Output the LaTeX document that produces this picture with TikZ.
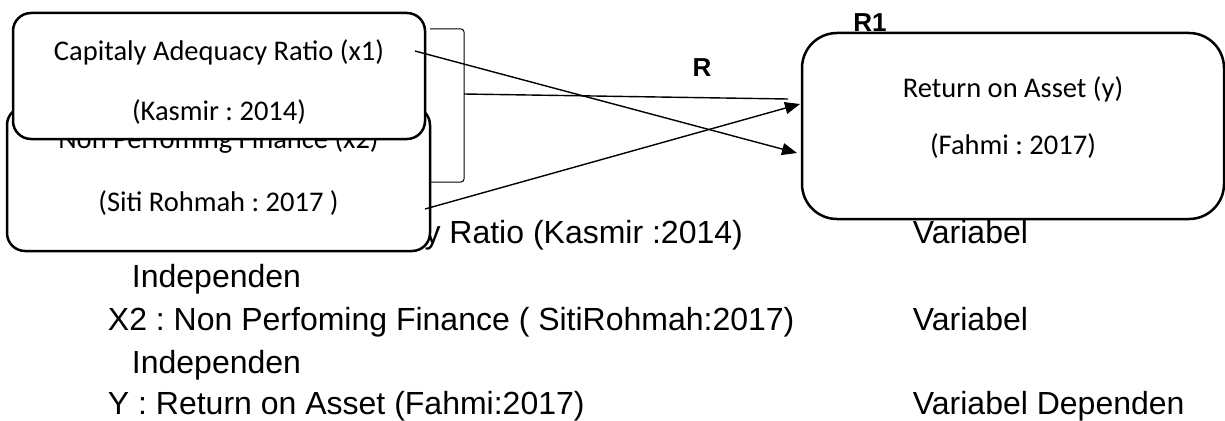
\documentclass[tikz,border=0pt]{standalone}
\usepackage{fontspec}
\setmainfont{Liberation Sans}
\newfontfamily\boxfont{Carlito}
\usetikzlibrary{arrows.meta}
\frenchspacing

\tikzset{
  varbox/.style={draw, line width=2.5pt, rounded corners=18pt, fill=white, inner sep=0pt},
  boxtext/.style={anchor=base, inner sep=0.75pt, font=\boxfont\fontsize{28.5}{34}\selectfont},
  listtext/.style={anchor=base west, inner sep=0.75pt, font=\fontsize{32}{38}\selectfont},
  rlabel/.style={anchor=base, inner sep=0.75pt, font=\bfseries\fontsize{26}{30}\selectfont},
  link/.style={line width=1.4pt, -{Triangle[length=15pt,width=12pt]}},
  bracket/.style={line width=1pt, rounded corners=3pt}
}

\begin{document}
\begin{tikzpicture}[x=1pt,y=-1pt]
    \useasboundingbox (0,0) rectangle (1225,420);

    % list of variables (first line lies under the x2 box)
    \node (lx1) at (107,243) [listtext] {X1 : Capitaly Adequacy Ratio (Kasmir :2014)};
    \node (lx1v) at (912,243) [listtext] {Variabel};
    \node (lx1i) at (131,287) [listtext] {Independen};
    \node (lx2) at (107,330) [listtext] {X2 : Non Perfoming Finance ( SitiRohmah:2017)};
    \node (lx2v) at (912,330) [listtext] {Variabel};
    \node (lx2i) at (131,373) [listtext] {Independen};
    \node (ly) at (107,414) [listtext] {Y : Return on Asset (Fahmi:2017)};
    \node (lyv) at (912,414) [listtext] {Variabel Dependen};

    % x2 box
    \node (x2box) at (218.5,179) [varbox, minimum width=423pt, minimum height=144pt] {};
    \node (x2name) at (218.5,148) [boxtext] {Non Perfoming Finance (x2)};
    \node (x2ref) at (218.5,211) [boxtext] {(Siti Rohmah : 2017 )};

    % x1 box
    \node (x1box) at (219,76) [varbox, minimum width=412pt, minimum height=126pt] {};
    \node (x1name) at (219,60) [boxtext] {Capitaly Adequacy Ratio (x1)};
    \node (x1ref) at (219,120) [boxtext] {(Kasmir : 2014)};

    % y box
    \node (ybox) at (1013,126) [varbox, rounded corners=35pt, minimum width=422pt, minimum height=186pt] {};
    \node (yname) at (1013,97) [boxtext] {Return on Asset (y)};
    \node (yref) at (1013,154) [boxtext] {(Fahmi : 2017)};

    \node (r) at (702,76) [rlabel] {R};
    \node (r1) at (870,32) [rlabel] {R1};

    % connectors
    \coordinate (x1out) at (415,51);
    \coordinate (x2out) at (425,209);
    \coordinate (yin1) at (800,104);
    \coordinate (yin2) at (797,153);
    \coordinate (brtop) at (430,29);
    \coordinate (brbot) at (430,182);
    \coordinate (brmid) at (464,94);
    \coordinate (brend) at (788,99);

    \draw[bracket] (brtop) -- (464,29) -- (464,182) -- (brbot);
    \draw[line width=1.4pt] (brmid) -- (brend);
    \draw[link] (x1out) -- (yin2);
    \draw[link] (x2out) -- (yin1);
\end{tikzpicture}
\end{document}
